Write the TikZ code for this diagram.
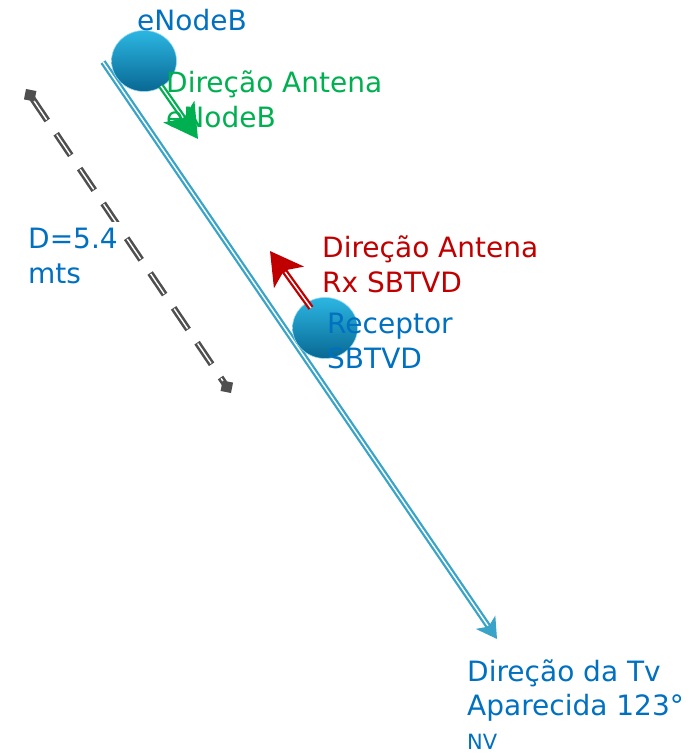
\documentclass[tikz,border=0pt]{standalone}
\usepackage{fontspec}
\setmainfont{DejaVu Sans}
\usetikzlibrary{arrows.meta,calc,shapes.geometric}
\definecolor{txtblue}{HTML}{0070C0}
\definecolor{txtgreen}{HTML}{00B050}
\definecolor{txtred}{HTML}{C00000}
\definecolor{linecyan}{HTML}{3AA4C8}
\definecolor{ballhi}{HTML}{2CB6E2}
\definecolor{balllo}{HTML}{086893}
\definecolor{dimgray}{HTML}{4F4F4F}
\begin{document}
\begin{tikzpicture}[x=1pt,y=-1pt,
  lbl/.style={anchor=base west, inner sep=0pt, align=left, font=\fontsize{28}{35}\selectfont},
  ball/.style={ellipse, minimum width=65pt, minimum height=61pt, inner sep=0pt, top color=ballhi, bottom color=balllo, draw=ballhi!50!white, line width=0.6pt},
  shaft/.style={line width=6pt},
  core/.style={white, line width=1.4pt},
  dimdash/.style={dash pattern=on 26pt off 16pt}
]
\useasboundingbox (0,0) rectangle (695,754);

% main direction line
\coordinate (lineA) at (103,62);
\coordinate (lineB) at (497,639);
\draw[linecyan, shaft, -{Stealth[length=20pt,width=23pt,inset=5pt]}] (lineA) -- (lineB);
\draw[core, shorten >=16pt] (lineA) -- (lineB);

% dimension line
\coordinate (dimA) at (26,89);
\coordinate (dimB) at (231,393);
\coordinate (dimA2) at ($(dimA)!12pt!(dimB)$);
\coordinate (dimB2) at ($(dimB)!12pt!(dimA)$);
\draw[dimgray, line width=6.5pt, dimdash] (dimA2) -- (dimB2);
\draw[core, dash pattern=on 24pt off 18pt, dash phase=41pt] (dimA2) -- (dimB2);
\draw[dimgray, line width=6.5pt, -{Diamond[length=15pt,width=15pt]}] (dimA2) -- (dimA);
\draw[dimgray, line width=6.5pt, -{Diamond[length=15pt,width=15pt]}] (dimB2) -- (dimB);

% balls
\node[ball] (enb) at (144,61) {};
\node[ball] (rx) at (325,328) {};

% green arrow
\coordinate (gA) at (161,86);
\coordinate (gB) at (198,139);
\draw[txtgreen, shaft, -{Stealth[length=33pt,width=37pt,inset=8pt]}] (gA) -- (gB);
\draw[core, shorten >=26pt] (gA) -- (gB);

% red arrow
\coordinate (rA) at (311,308);
\coordinate (rB) at (270,251);
\draw[txtred, shaft, -{Stealth[length=32pt,width=36pt,inset=8pt]}] (rA) -- (rB);
\draw[core, shorten >=26pt] (rA) -- (rB);

% labels (base anchor = baseline of the last line)
\node[lbl, txtblue] (enbl) at (137,31) {eNodeB};
\node[lbl, txtgreen] (gl) at (166,128) {Direção Antena\\eNodeB};
\node[lbl, txtred] (rl) at (322,292) {Direção Antena\\Rx SBTVD};
\node[lbl, txtblue] (rxl) at (327,368) {Receptor\\SBTVD};
\node[lbl, txtblue, fill=white, inner sep=6pt] (dl) at (22,283) {D=5.4\\mts};
\node[lbl, txtblue, font=\fontsize{28}{34}\selectfont] (tvl) at (467,749) {Direção da Tv\\Aparecida 123°\\{\fontsize{21}{21}\selectfont NV}};
\end{tikzpicture}
\end{document}
